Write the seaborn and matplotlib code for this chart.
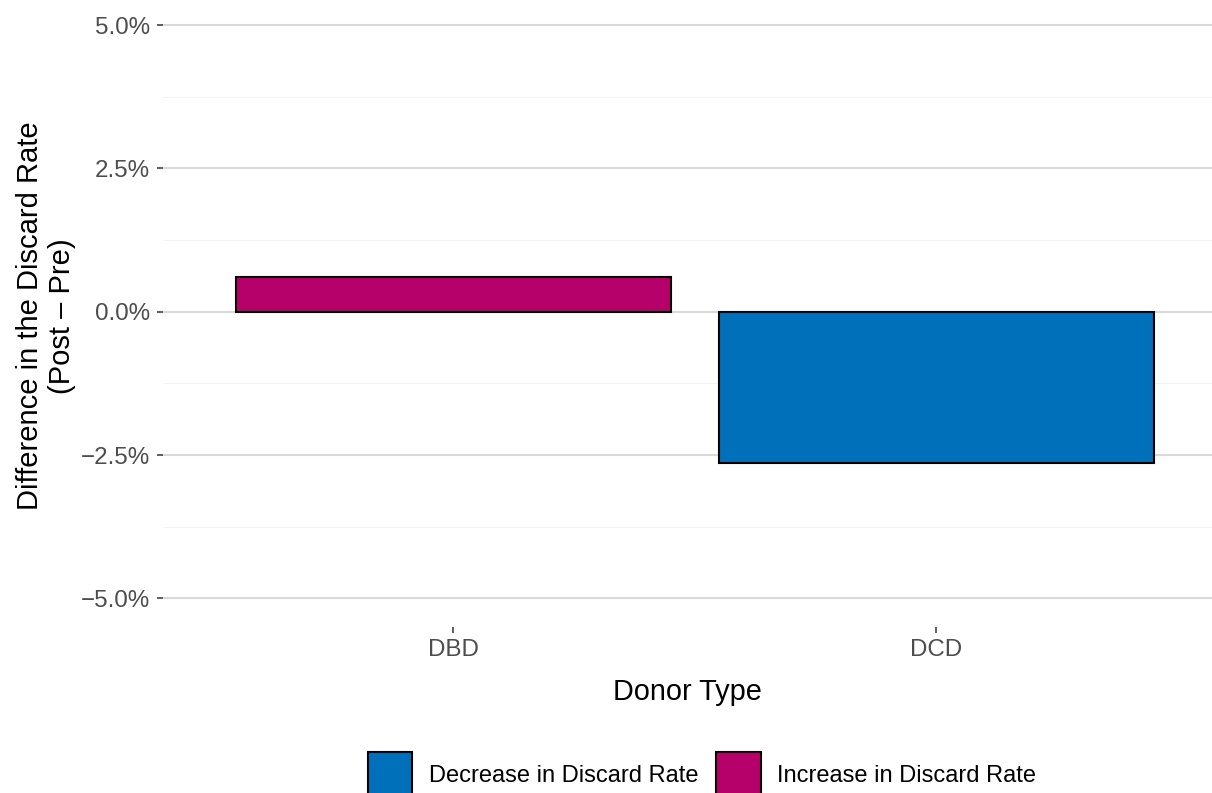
import matplotlib
matplotlib.use("Agg")
import matplotlib.pyplot as plt
import seaborn as sns
import pandas as pd
from matplotlib.patches import Patch
from matplotlib.ticker import FuncFormatter, MultipleLocator

donor_types = ["DBD", "DCD"]
diff_pct = [0.61, -2.64]
directions = ["Increase in Discard Rate", "Decrease in Discard Rate"]
legend_order = ["Decrease in Discard Rate", "Increase in Discard Rate"]
palette = {"Decrease in Discard Rate": "#0070BB", "Increase in Discard Rate": "#B6006A"}
y_ticks = [-5.0, -2.5, 0.0, 2.5, 5.0]

df = pd.DataFrame({"Donor Type": donor_types, "diff": diff_pct, "dir": directions})

sns.set_theme(style="white")
plt.rcParams["font.family"] = ["Liberation Sans", "DejaVu Sans"]

fig = plt.figure(figsize=(12.12, 7.93), dpi=100)
W, H = 1212, 793
left, right, top, bottom = 163, 1212, 5, 627
ax = fig.add_axes([left / W, (H - bottom) / H, (right - left) / W, (bottom - top) / H])

sns.barplot(data=df, x="Donor Type", y="diff", hue="dir", dodge=False,
            palette=palette, saturation=1, width=0.9, edgecolor="black", linewidth=1.5,
            legend=False, ax=ax, zorder=3)

ax.set_xlim(-0.6, 1.57)
ax.set_ylim(-5.5, 5.35)
ax.set_yticks(y_ticks)
ax.yaxis.set_minor_locator(MultipleLocator(1.25))
ax.yaxis.set_major_formatter(FuncFormatter(lambda v, p: ("\u2212" if v < 0 else "") + f"{abs(v):.1f}%"))

ax.grid(False)
ax.grid(True, axis="y", which="major", color="#D9D9D9", linewidth=1.5, zorder=0)
ax.grid(True, axis="y", which="minor", color="#F2F2F2", linewidth=0.8, zorder=0)
for s in ax.spines.values():
    s.set_visible(False)

ax.tick_params(axis="both", which="major", direction="out", length=4.3, width=1.1,
               color="#333333", labelcolor="#4D4D4D", labelsize=17.4)
ax.tick_params(axis="y", which="major", left=True, pad=5)
ax.tick_params(axis="x", which="major", bottom=True, pad=4)
ax.tick_params(axis="y", which="minor", left=False)

ax.set_xlabel("Donor Type", fontsize=20.8, color="black", labelpad=12.5)
ax.set_ylabel("Difference in the Discard Rate\n(Post \u2013 Pre)", fontsize=21,
              color="black", labelpad=3.5, linespacing=1.2)

handles = [Patch(facecolor=palette[k], edgecolor="black", linewidth=1.5, label=k) for k in legend_order]
leg = fig.legend(handles=handles, loc="center", bbox_to_anchor=(0.579, 0.023), ncol=2,
                 frameon=False, fontsize=17, handlelength=1.9, handleheight=2.56,
                 handletextpad=0.68, columnspacing=0.76, borderpad=0, borderaxespad=0)
for t in leg.get_texts():
    t.set_color("black")

fig.savefig("out.png", dpi=100)
